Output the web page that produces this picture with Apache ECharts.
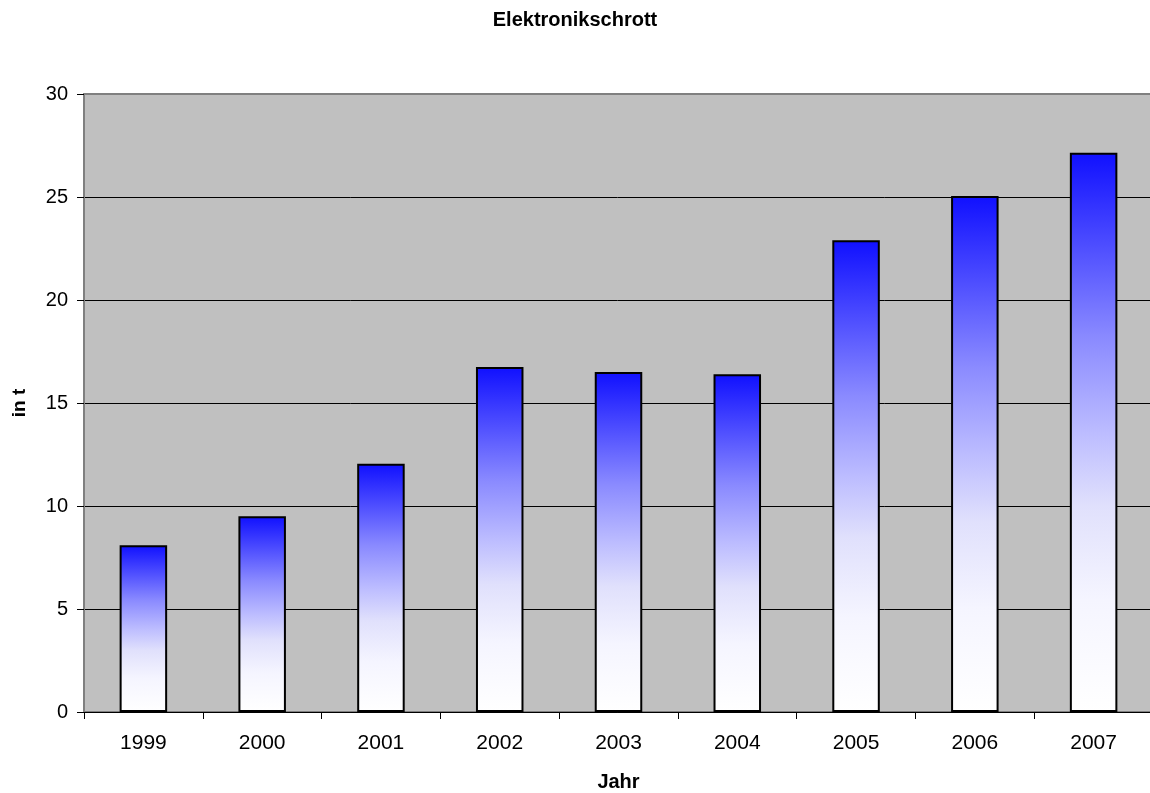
<!DOCTYPE html>
<html>
<head>
<meta charset="utf-8">
<script src="https://cdn.jsdelivr.net/npm/echarts@6/dist/echarts.min.js"></script>
<style>
  html, body { margin: 0; padding: 0; background: #fff; }
  #chart { width: 1150px; height: 793px; }
</style>
</head>
<body>
<div id="chart"></div>
<script>
// Daten: Elektronikschrott in t
const years = ['1999', '2000', '2001', '2002', '2003', '2004', '2005', '2006', '2007'];
const tonnes = [8.1, 9.5, 12.05, 16.75, 16.5, 16.4, 22.9, 25.05, 27.15];

const font = 'Liberation Sans, Arial, sans-serif';

// Verlauf blau -> weiss wie im Original
const barFill = new echarts.graphic.LinearGradient(0, 0, 0, 1, [
    { offset: 0, color: '#1010ff' },
    { offset: 0.33, color: '#8a8aff' },
    { offset: 0.5, color: '#bcbcff' },
    { offset: 0.63, color: '#e0e0fc' },
    { offset: 0.8, color: '#f5f5ff' },
    { offset: 1, color: '#ffffff' }
]);

const chart = echarts.init(document.getElementById('chart'));
chart.setOption({
    animation: false,
    backgroundColor: '#ffffff',
    title: {
        text: 'Elektronikschrott',
        left: 'center',
        top: 5,
        textStyle: { fontFamily: font, fontSize: 20, fontWeight: 'bold', color: '#000' }
    },
    grid: {
        left: 84, width: 1069, top: 94, bottom: 81,
        outerBoundsMode: 'none',
        containLabel: false,
        show: true,
        backgroundColor: '#c0c0c0',
        borderColor: '#808080',
        borderWidth: 2
    },
    xAxis: {
        type: 'category',
        data: years,
        name: 'Jahr',
        nameLocation: 'middle',
        nameGap: 60,
        nameTextStyle: { fontFamily: font, fontSize: 20, fontWeight: 'bold', color: '#000' },
        axisLine: { lineStyle: { color: '#000', width: 1 } },
        axisTick: { show: true, length: 7, lineStyle: { color: '#000' } },
        axisLabel: { fontFamily: font, fontSize: 21, color: '#000', margin: 21 },
        splitLine: { show: false }
    },
    yAxis: {
        type: 'value',
        min: 0,
        max: 30,
        interval: 5,
        name: 'in t',
        nameLocation: 'middle',
        nameGap: 55,
        nameRotate: 90,
        nameTextStyle: { fontFamily: font, fontSize: 19, fontWeight: 'bold', color: '#000' },
        axisLine: { show: true, lineStyle: { color: '#808080', width: 2 } },
        axisTick: { show: true, inside: false, length: 7, lineStyle: { color: '#000' } },
        axisLabel: { fontFamily: font, fontSize: 20, color: '#000', margin: 16 },
        splitLine: { show: true, showMaxLine: false, lineStyle: { color: '#000', width: 1 } }
    },
    series: [{
        type: 'bar',
        data: tonnes,
        barWidth: '40%',
        itemStyle: {
            color: barFill,
            borderColor: '#000',
            borderWidth: 2
        }
    }]
});
</script>
</body>
</html>
